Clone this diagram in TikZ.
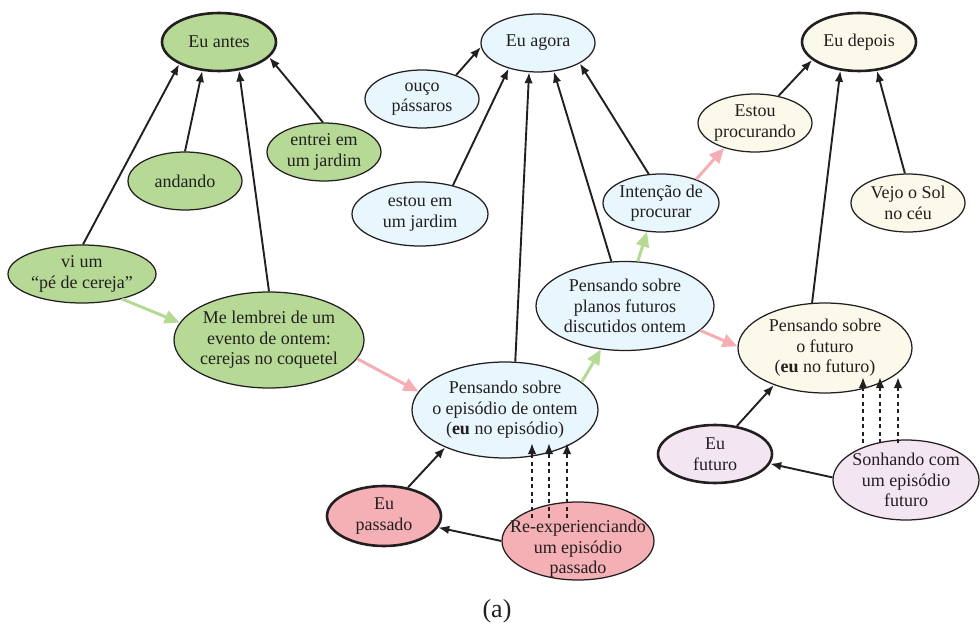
\documentclass[tikz,border=0pt]{standalone}
\usepackage{fontspec}
\setmainfont{Liberation Serif}
\usetikzlibrary{shapes.geometric,arrows.meta,calc}
\definecolor{gfill}{HTML}{B6DA96}
\definecolor{bfill}{HTML}{E8F6FD}
\definecolor{yfill}{HTML}{FAF9EA}
\definecolor{pfill}{HTML}{F5B0B5}
\definecolor{vfill}{HTML}{F3E6F2}
\definecolor{garrow}{HTML}{B5DA93}
\definecolor{parrow}{HTML}{F5AFB4}
\definecolor{txtc}{HTML}{231F20}
\begin{document}
\begin{tikzpicture}[x=1pt,y=-1pt,
  ell/.style={ellipse,draw=txtc,line width=1.25pt,inner sep=0pt},
  bold ell/.style={ellipse,draw=txtc,line width=2.6pt,inner sep=0pt},
  txt/.style={align=center,inner sep=0pt,font=\fontsize{18}{20.5}\selectfont,text=txtc},
  arr/.style={-{Latex[length=11pt,width=8.5pt]},line width=1.9pt,draw=txtc},
  garr/.style={-{Triangle[length=15pt,width=13pt]},line width=3pt,draw=garrow},
  parr/.style={-{Triangle[length=15pt,width=13pt]},line width=3pt,draw=parrow},
  darr/.style={-{Latex[length=11pt,width=8.5pt]},line width=1.9pt,draw=txtc,dash pattern=on 4pt off 3.5pt}
]
\useasboundingbox (0,0) rectangle (980,628);

% ---- green cluster
\node[bold ell,fill=gfill,minimum width=114,minimum height=58] (antes) at (219,42) {};
\node[txt] (antesT) at (antes) {Eu antes};
\node[ell,fill=gfill,minimum width=114,minimum height=58] (andando) at (185,181) {};
\node[txt] (andandoT) at (andando) {andando};
\node[ell,fill=gfill,minimum width=114,minimum height=58] (entrei) at (324,152) {};
\node[txt] (entreiT) at (entrei) {entrei em\\um jardim};
\node[ell,fill=gfill,minimum width=148,minimum height=58] (viu) at (82,274) {};
\node[txt] (viuT) at (viu) {vi um\\“pé de cereja”};
\node[ell,fill=gfill,minimum width=190,minimum height=96] (lembrei) at (269,340) {};
\node[txt] (lembreiT) at (lembrei) {Me lembrei de um\\evento de ontem:\\cerejas no coquetel};

% ---- blue cluster
\node[ell,fill=bfill,minimum width=114,minimum height=58] (agora) at (538,43) {};
\node[txt] (agoraT) at (agora) {Eu agora};
\node[ell,fill=bfill,minimum width=114,minimum height=58] (ouco) at (422,99) {};
\node[txt] (oucoT) at (ouco) {ouço\\pássaros};
\node[ell,fill=bfill,minimum width=136,minimum height=64] (estou) at (420,214) {};
\node[txt] (estouT) at (estou) {estou em\\um jardim};
\node[ell,fill=bfill,minimum width=116,minimum height=58] (intencao) at (661,203) {};
\node[txt] (intencaoT) at (intencao) {Intenção de\\procurar};
\node[ell,fill=bfill,minimum width=178,minimum height=89] (planos) at (625,306) {};
\node[txt] (planosT) at (planos) {Pensando sobre\\planos futuros\\discutidos ontem};
\node[ell,fill=bfill,minimum width=186,minimum height=96] (episodio) at (505,410) {};
\node[txt] (episodioT) at (episodio) {Pensando sobre\\o episódio de ontem\\(\textbf{eu} no episódio)};

% ---- yellow cluster
\node[bold ell,fill=yfill,minimum width=114,minimum height=58] (depois) at (859,42) {};
\node[txt] (depoisT) at (depois) {Eu depois};
\node[ell,fill=yfill,minimum width=114,minimum height=58] (procurando) at (755,123) {};
\node[txt] (procurandoT) at (procurando) {Estou\\procurando};
\node[ell,fill=yfill,minimum width=114,minimum height=58] (vejo) at (908,203) {};
\node[txt] (vejoT) at (vejo) {Vejo o Sol\\no céu};
\node[ell,fill=yfill,minimum width=174,minimum height=90] (futuro) at (825,348) {};
\node[txt] (futuroT) at (futuro) {Pensando sobre\\o futuro\\(\textbf{eu} no futuro)};

% ---- past / future selves
\node[bold ell,fill=pfill,minimum width=114,minimum height=60] (passado) at (384,516) {};
\node[txt] (passadoT) at (passado) {Eu\\passado};
\node[ell,fill=pfill,minimum width=152,minimum height=78] (reexp) at (578,541) {};
\node[txt] (reexpT) at ($(reexp)+(0,8)$) {Re-experienciando\\um episódio\\passado};
\node[bold ell,fill=vfill,minimum width=114,minimum height=58] (eufuturo) at (715,454) {};
\node[txt] (eufuturoT) at (eufuturo) {Eu\\futuro};
\node[ell,fill=vfill,minimum width=146,minimum height=80] (sonhando) at (906,480) {};
\node[txt] (sonhandoT) at (sonhando) {Sonhando com\\um episódio\\futuro};

\node[txt,font=\fontsize{26}{28}\selectfont] (caption) at (497,611) {(a)};

% ---- connectors to Eu antes
\draw[arr] (viu.88) -- (antes.209);
\draw[arr] (andando.90) -- (antes.240);
\draw[arr] (lembrei.90) -- (antes.305);
\draw[arr] (entrei.92) -- (antes.343);
\draw[garr] (viu.328) -- (lembrei.169);
\draw[parr] (lembrei.348) -- (episodio.168);

% ---- connectors to Eu agora
\draw[arr] (ouco.35) -- (agora.184);
\draw[arr] (estou.41) -- (agora.221);
\draw[arr] (episodio.78) -- (agora.253);
\draw[arr] (planos.107) -- (agora.299);
\draw[arr] (intencao.113) -- (agora.334);
\draw[garr] (episodio.20) -- (planos.241);
\draw[garr] (planos.74) -- (intencao.244);
\draw[parr] (intencao.34) -- (procurando.219);

% ---- connectors to Eu depois
\draw[arr] (procurando.49) -- (depois.201);
\draw[arr] (futuro.106) -- (depois.237);
\draw[arr] (vejo.96) -- (depois.302);
\draw[parr] (planos.342) -- (futuro.179);

% ---- past self
\draw[arr] (passado.50) -- (episodio.212);
\draw[arr] (reexp.180) -- (passado.348);
\foreach \dx/\ex in {-46/27,-29/44,-11/62}
  \draw[darr] ($(reexp)+(\dx,-23)$) -- ($(episodio)+(\ex,33)$);

% ---- future self
\draw[arr] (eufuturo.52) -- (futuro.216);
\draw[arr] (sonhando.178) -- (eufuturo.350);
\foreach \dx/\ex in {-43/38,-26/55,-8/73}
  \draw[darr] ($(sonhando)+(\dx,-37)$) -- ($(futuro)+(\ex,29)$);
\end{tikzpicture}
\end{document}
